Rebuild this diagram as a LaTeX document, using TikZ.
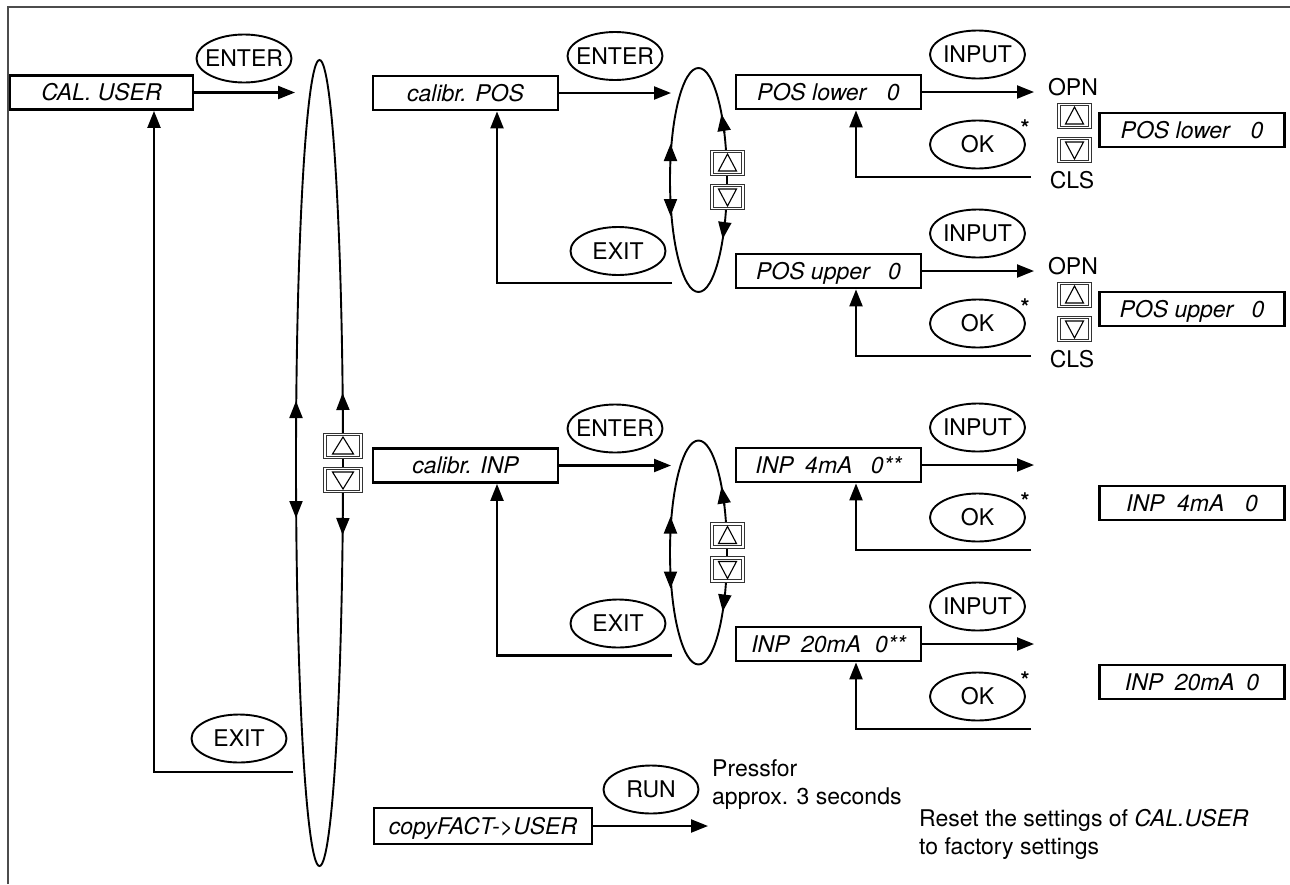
\documentclass[tikz,border=0pt]{standalone}
\usepackage{fontspec}
\setmainfont{TeX Gyre Heros}
\usetikzlibrary{arrows.meta,positioning,calc,shapes.geometric}
\newcommand\dispfont{\fontsize{23}{28}\selectfont}
\tikzset{
  disp/.style={draw,line width=2.8pt,minimum width=185pt,minimum height=34pt,inner sep=0pt,
    text height=16.5pt,text depth=0pt,font=\dispfont\itshape},
  keyoval/.style={draw,ellipse,line width=1.9pt,minimum width=95pt,minimum height=48pt,
    inner xsep=-15pt,inner ysep=0pt,text height=16.5pt,text depth=0pt},
  ring/.style={draw,ellipse,line width=1.9pt,inner sep=0pt},
  btn/.style={draw=black!80,double=white,double distance=1.1pt,line width=1.2pt,fill=white,
    minimum width=31pt,minimum height=23pt,inner sep=0pt},
  flow/.style={line width=2.2pt,-{Triangle[length=17pt,width=13pt]}},
  ringtip/.style={line width=1.9pt,-{Triangle[length=17pt,width=13pt]}},
  ringdtip/.style={line width=1.9pt,{Triangle[length=17pt,width=13pt]}-{Triangle[length=17pt,width=13pt]}},
}

\begin{document}
\begin{tikzpicture}[x=1pt,y=-1pt,font=\dispfont]
  \useasboundingbox (0,0) rectangle (1290,884);
  \draw[line width=1.4pt,black!70] (8,884) -- (8,7) -- (1290,7);

  % main menu
  \node[disp,minimum width=183pt] (cal) at (101.5,92.5) {CAL. USER};
  \node[keyoval] (en0) at (244,58.5) {ENTER};
  \node[ring,minimum width=47pt,minimum height=806pt] (main) at (319.5,463) {};
  \coordinate (m-in) at (295,92.5);
  \coordinate (m-out) at (293,772);
  \draw[flow] (cal) -- (m-in);
  \node[keyoval] (ex0) at (239,738.5) {EXIT};
  \draw[flow] (m-out) -| ([xshift=52.5pt]cal.south);
  \draw[ringtip] ($(main.center)+(23.4,-53)$) -- ($(main.center)+(23.1,-70)$);
  \draw[ringtip] ($(main.center)+(23.4,54)$) -- ($(main.center)+(23.1,72)$);
  \draw[ringdtip] ($(main.center)+(-23.5,-62)$) -- ($(main.center)+(-23.5,55)$);
  \node[btn,minimum width=36pt] (mu) at ($(main.center)+(23.5,-17)$) {};
  \node[btn,minimum width=36pt] (md) at ($(main.center)+(23.5,17)$) {};

  % calibr. submenus
  \foreach \j/\y/\txt/\r in {1/93/POS/pe, 2/465.5/INP/ie} {
    \node[disp] (cal\j) at (465.5,\y) {calibr. \txt};
    \node[keyoval] (en\j) at (615,\y-37) {ENTER};
    \node[keyoval] (ex\j) at (618,\y+158) {EXIT};
    \node[ring,minimum width=57pt,minimum height=224pt] (\r) at (698.5,\y+87) {};
    \coordinate (\r-in) at (671,\y);
    \coordinate (\r-out) at (672,\y+190);
    \draw[flow] (cal\j) -- (\r-in);
    \draw[flow] (\r-out) -| ([xshift=31.5pt]cal\j.south);
    \draw[ringtip] ($(\r.center)+(26,-47)$) -- ($(\r.center)+(23,-66)$);
    \draw[ringtip] ($(\r.center)+(26.6,40)$) -- ($(\r.center)+(24.2,59)$);
    \draw[ringdtip] ($(\r.center)+(-28,-36)$) -- ($(\r.center)+(-28,36)$);
    \node[btn] (\r-u) at ($(\r.center)+(29,-17)$) {};
    \node[btn] (\r-d) at ($(\r.center)+(29,17)$) {};
  }

  % value entries
  \foreach \i/\y/\txt/\res in {1/92/{POS lower\hspace{.9em}0}/{POS lower\hspace{.9em}0},
      2/271/{POS upper\hspace{.8em}0}/{POS upper\hspace{.8em}0},
      3/465/{INP\hspace{.5em}4mA\hspace{.8em}0**}/{INP\hspace{.55em}4mA\hspace{.9em}0},
      4/644/{INP\hspace{.5em}20mA\hspace{.6em}0**}/{INP\hspace{.5em}20mA\hspace{.5em}0}} {
    \node[disp] (d\i) at (828.5,\y) {\txt};
    \node[keyoval] (in\i) at (977.5,\y-37.5) {INPUT};
    \node[keyoval] (ok\i) at (977.5,\y+52.5) {OK};
    \node[anchor=base,inner sep=0pt,font=\dispfont\bfseries] (st\i) at (1025,\y+44) {*};
    \node[disp] (res\i) at (1192,\y+38) {\res};
    \coordinate (to\i) at (1034,\y);
    \coordinate (bk\i) at (1031,\y+85);
    \draw[flow] (d\i) -- (to\i);
    \draw[flow] (bk\i) -| ([xshift=27.5pt]d\i.south);
  }
  \foreach \i/\y in {1/92,2/271} {
    \node (opn\i) at (1073,\y-5) {OPN};
    \node (cls\i) at (1072,\y+88) {CLS};
    \node[btn] (o\i-u) at (1074.5,\y+24) {};
    \node[btn] (o\i-d) at (1074.5,\y+58) {};
  }
  \foreach \b/\w/\s in {mu/10.5/1,md/10.5/-1,pe-u/9/1,pe-d/9/-1,ie-u/9/1,ie-d/9/-1,
      o1-u/9/1,o1-d/9/-1,o2-u/9/1,o2-d/9/-1}
    \draw[line width=1.1pt,line join=miter] ($(\b)+(-\w,8*\s)$) -- ($(\b)+(\w,8*\s)$) -- ($(\b)+(0,-9*\s)$) -- cycle;

  % factory reset
  \node[disp,minimum width=218pt,minimum height=36pt] (cf) at (483,826) {copyFACT->USER};
  \node[keyoval] (run) at (651,789.5) {RUN};
  \coordinate (cf-to) at (708,826);
  \draw[flow] (cf) -- (cf-to);
  \node[anchor=west,align=left,inner sep=0pt] (press) at (712,785) {Pressfor\\approx. 3 seconds};
  \node[anchor=west,align=left,inner sep=0pt] (reset) at (919,834) {Reset the settings of \textit{CAL.USER}\\to factory settings};
\end{tikzpicture}
\end{document}
